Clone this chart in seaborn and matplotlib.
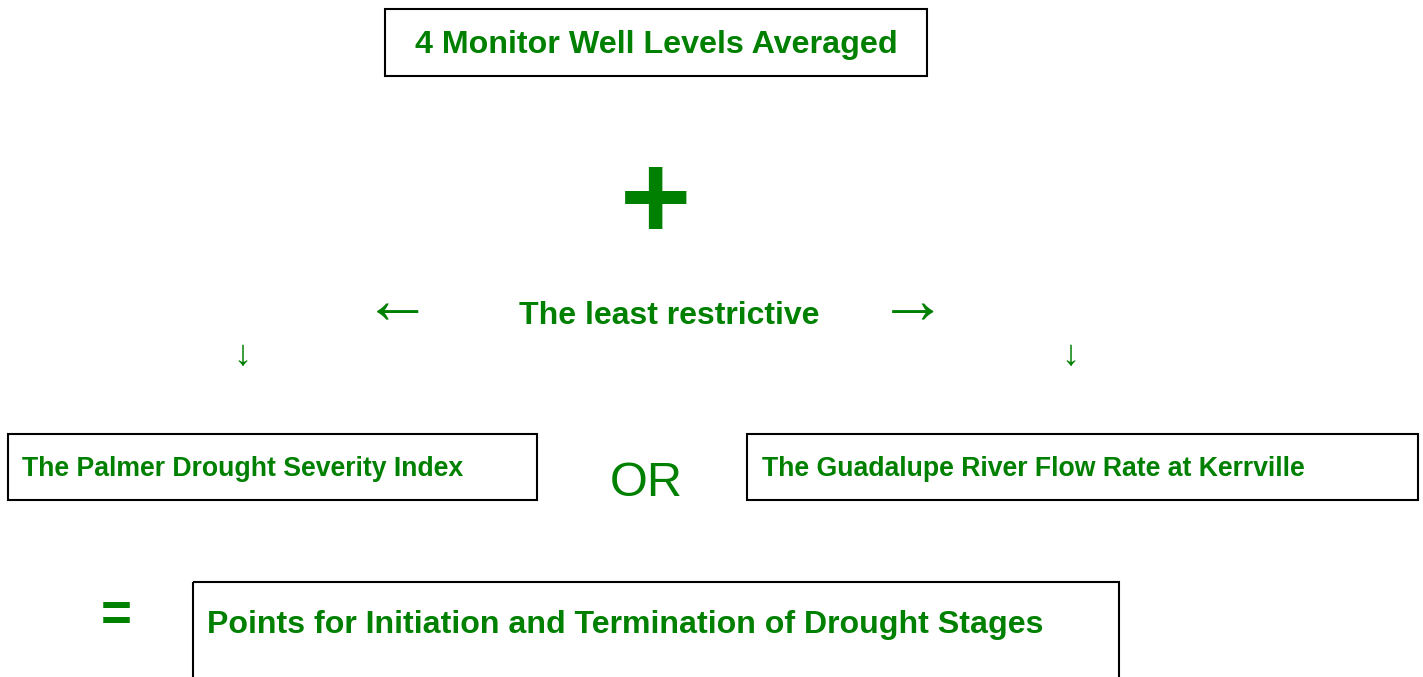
import matplotlib
matplotlib.use("Agg")
import matplotlib.pyplot as plt
from matplotlib.patches import Rectangle
import seaborn as sns

# texts of the diagram
titulo = "4 Monitor Well Levels Averaged"
criterio = "The least restrictive"
opcion_izq = "The Palmer Drought Severity Index"
opcion_der = "The Guadalupe River Flow Rate at Kerrville"
conector = "OR"
resultado = "Points for Initiation and Termination of Drought Stages"

sns.set_theme(style="white")
plt.rcParams["font.family"] = ["Liberation Sans", "DejaVu Sans"]

VERDE = "#008000"

fig = plt.figure(figsize=(14.23, 6.77), dpi=100)
ax = fig.add_axes([0, 0, 1, 1])
ax.set_xlim(0, 1423)
ax.set_ylim(677, 0)
ax.axis("off")

def caja(x0, y0, x1, y1):
    ax.add_patch(Rectangle((x0, y0), x1 - x0, y1 - y0, fill=False,
                           edgecolor="black", linewidth=1.5))

# top box
caja(385, 9, 927, 76)
ax.text(656, 45, titulo, color=VERDE, fontsize=23.2, fontweight="bold",
        ha="center", va="center")

# big plus
ax.text(656, 207, "+", color=VERDE, fontsize=88, fontweight="bold",
        ha="center", va="center")

# least restrictive with arrows
ax.text(669, 316, criterio, color=VERDE, fontsize=23, fontweight="bold",
        ha="center", va="center")
ax.text(398, 305, "\u2190", color=VERDE, fontsize=50, ha="center",
        va="center")
ax.text(913, 305, "\u2192", color=VERDE, fontsize=50, ha="center",
        va="center")
ax.text(242, 355, "\u2193", color=VERDE, fontsize=26, ha="center",
        va="center")
ax.text(1070, 355, "\u2193", color=VERDE, fontsize=26, ha="center",
        va="center")

# option boxes
caja(8, 434, 537, 500)
ax.text(22, 469, opcion_izq, color=VERDE, fontsize=19.2, fontweight="bold",
        ha="left", va="center")
ax.text(646, 484, conector, color=VERDE, fontsize=35, ha="center",
        va="center")
caja(747, 434, 1418, 500)
ax.text(762, 469, opcion_der, color=VERDE, fontsize=19.2, fontweight="bold",
        ha="left", va="center")

# result
ax.text(116, 616, "=", color=VERDE, fontsize=38, fontweight="bold",
        ha="center", va="center")
caja(193, 582, 1119, 700)
ax.text(207, 625, resultado, color=VERDE, fontsize=23.1, fontweight="bold",
        ha="left", va="center")

fig.savefig("out.png", dpi=100, facecolor="white")
